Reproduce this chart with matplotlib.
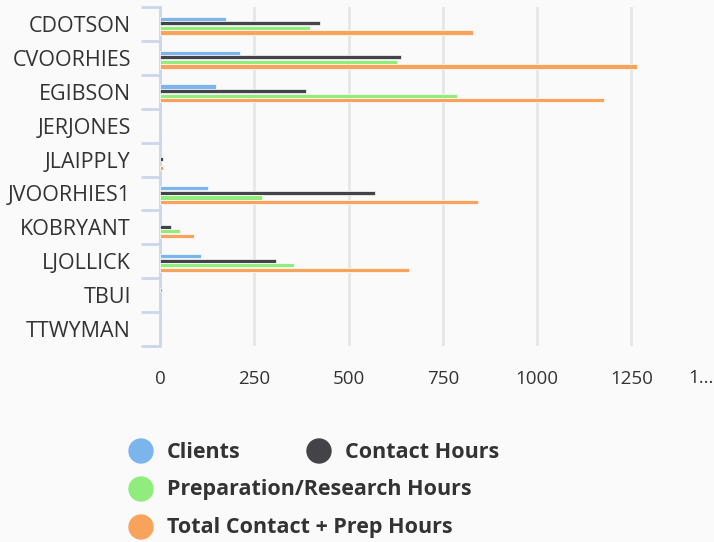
import numpy as np
import matplotlib
matplotlib.use('Agg')
import matplotlib.pyplot as plt
from matplotlib.patches import Circle

names = ['CDOTSON', 'CVOORHIES', 'EGIBSON', 'JERJONES', 'JLAIPPLY',
         'JVOORHIES1', 'KOBRYANT', 'LJOLLICK', 'TBUI', 'TTWYMAN']
clients = [174, 211, 148, 0, 0, 126, 0, 110, 6, 0]
contact_hours = [425, 639, 388, 0, 8, 570, 30, 308, 0, 0]
prep_hours = [399, 628, 787, 0, 0, 271, 52, 356, 0, 0]
total_hours = [831, 1264, 1178, 0, 8, 842, 89, 660, 0, 0]

series = [('Clients', clients, '#7cb5ec'),
          ('Contact Hours', contact_hours, '#434348'),
          ('Preparation/Research Hours', prep_hours, '#90ed7d'),
          ('Total Contact + Prep Hours', total_hours, '#f7a35c')]

plt.rcParams['font.family'] = ['Open Sans', 'DejaVu Sans']
bg = '#fafafa'

fig = plt.figure(figsize=(7.14, 5.42), dpi=100, facecolor=bg)
ax = fig.add_axes([160/714, 1-346/542, 1-160/714, 339/542])
ax.set_facecolor(bg)

y = np.arange(len(names))
slot = 0.135
for i, (label, vals, col) in enumerate(series):
    v = np.array(vals, dtype=float)
    m = v > 0
    ax.barh((y + (i - 1.5) * slot + 0.05)[m], v[m], height=0.125, color=col,
            edgecolor='white', linewidth=0.5, zorder=3)

ax.set_ylim(len(names) - 0.5, -0.5)
ax.set_xlim(0, 1469)
ax.set_xticks([0, 250, 500, 750, 1000, 1250])
ax.set_yticks(y)
ax.set_yticklabels(names)
ax.set_yticks(np.arange(-0.5, len(names)), minor=True)
ax.tick_params(axis='y', which='major', length=0, pad=21, labelsize=15.5, labelcolor='#333333')
ax.tick_params(axis='y', which='minor', length=14, width=2, color='#ccd6eb')
ax.tick_params(axis='x', length=0, pad=17, labelsize=13.5, labelcolor='#333333')
ax.grid(axis='x', color='#e6e6e6', linewidth=2, zorder=0)
for s in ['top', 'right', 'bottom']:
    ax.spines[s].set_visible(False)
ax.spines['left'].set_color('#ccd6eb')
ax.spines['left'].set_linewidth(2)

fig.text(688/714, 1-378/542, '1...', fontsize=13.5, color='#333333', ha='left', va='center')

# legend drawn in pixel coordinates
lg = fig.add_axes([0, 0, 1, 1], facecolor='none')
lg.set_xlim(0, 714)
lg.set_ylim(542, 0)
lg.axis('off')
legend_pos = [(141, 451), (319, 451), (141, 489), (141, 527)]
for (label, vals, col), (cx, cy) in zip(series, legend_pos):
    lg.add_patch(Circle((cx, cy), 12, color=col))
    lg.text(cx + 26, cy + 1, label, fontsize=15.5, fontweight='bold', color='#333333',
            va='center', ha='left')

fig.savefig('out.png', dpi=100, facecolor=bg)
